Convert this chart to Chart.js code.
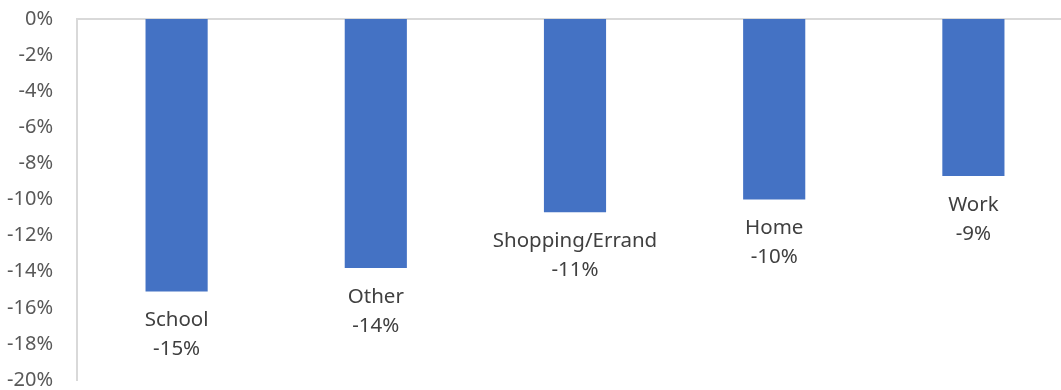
<!DOCTYPE html>
<html>
<head>
<meta charset="utf-8">
<script src="https://cdn.jsdelivr.net/npm/chart.js@4"></script>
<style>
  body { margin: 0; background: #fff; }
  #wrap { width: 1061px; height: 390px; overflow: hidden; }
</style>
</head>
<body>
<div id="wrap"><canvas id="chart" width="1073" height="390"></canvas></div>
<script>
const categories = ['School', 'Other', 'Shopping/Errand', 'Home', 'Work'];
const changes = [-15.1, -13.8, -10.7, -10.0, -8.7];
const yMin = -20;
const yMax = 0;
const yStep = 2;

const FONT = 'Noto Sans';

function formatPercent(value) {
  return `${Math.round(value)}%`;
}

// category name and rounded value under each bar
const barLabels = {
  id: 'barLabels',
  afterDatasetsDraw(chart) {
    const ctx = chart.ctx;
    const meta = chart.getDatasetMeta(0);
    ctx.save();
    ctx.font = `20.5px "${FONT}"`;
    ctx.fillStyle = '#404040';
    ctx.textAlign = 'center';
    ctx.textBaseline = 'middle';
    meta.data.forEach((bar, i) => {
      ctx.fillText(categories[i], bar.x, bar.y + 29);
      ctx.fillText(formatPercent(changes[i]), bar.x, bar.y + 58);
    });
    ctx.restore();
  },
};

new Chart(document.getElementById('chart'), {
  type: 'bar',
  data: {
    labels: categories,
    datasets: [
      {
        data: changes,
        backgroundColor: '#4472C4',
        borderWidth: 0,
        categoryPercentage: 1,
        barPercentage: 0.312,
      },
    ],
  },
  options: {
    responsive: false,
    animation: false,
    layout: { padding: { top: 19, bottom: 10, right: 0, left: 0 } },
    plugins: {
      legend: { display: false },
      tooltip: { enabled: false },
    },
    scales: {
      x: {
        position: 'top',
        grid: { display: false, drawTicks: false },
        ticks: { display: false },
        border: { display: true, color: '#d9d9d9', width: 2 },
        afterFit(scale) {
          scale.height = 0;
          scale.paddingLeft = 0;
          scale.paddingRight = 0;
        },
      },
      y: {
        min: yMin,
        max: yMax,
        ticks: {
          stepSize: yStep,
          padding: 24,
          color: '#595959',
          font: { family: FONT, size: 20 },
          callback: (value) => formatPercent(value),
        },
        grid: { display: false, drawTicks: false },
        border: { display: true, color: '#d9d9d9', width: 2 },
        afterFit(scale) {
          scale.width = 77;
          scale.paddingTop = 0;
          scale.paddingBottom = 0;
        },
      },
    },
  },
  plugins: [barLabels],
});
</script>
</body>
</html>
